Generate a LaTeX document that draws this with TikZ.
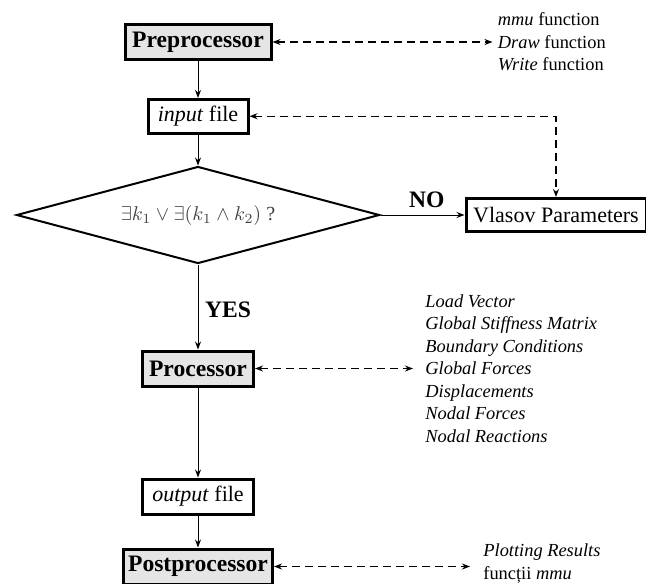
\documentclass[tikz,border=0pt]{standalone}
\usepackage{fontspec}
\setmainfont{Liberation Serif}
\usetikzlibrary{positioning, shapes.geometric, arrows.meta}
\definecolor{boxgray}{gray}{0.9}
\tikzset{
    mainbox/.style={draw, line width=1.5pt, fill=boxgray,
        font=\fontsize{11.8}{14}\selectfont\bfseries,
        minimum height=17.5pt, inner xsep=2pt},
    filebox/.style={draw, line width=1.5pt, fill=white,
        minimum height=15.5pt, inner xsep=3pt},
    decision/.style={diamond, draw, line width=1pt, aspect=3.74,
        minimum width=181.5pt, minimum height=48.5pt, inner sep=0pt,
        text=black!75, font=\fontsize{10}{12}\selectfont},
    sidelist/.style={align=left, inner sep=0pt,
        font=\fontsize{9.2}{11.25}\selectfont},
    tag/.style={font=\fontsize{11.8}{14}\selectfont\bfseries},
    link/.style={->, line width=0.5pt},
    dashlink/.style={<->, line width=0.7pt, dash pattern=on 4pt off 2.5pt},
    >={Stealth[length=4pt, width=3pt]}
}

\begin{document}
\begin{tikzpicture}[x=0.5pt, y=-0.5pt, font=\fontsize{11}{13}\selectfont]
\useasboundingbox (0,0) rectangle (646,583);

\node[mainbox, minimum width=73pt]                (pre)  at (198,42) {Preprocessor};
\node[filebox, minimum width=50pt, below=18.5pt of pre] (in)   {\textit{input} file};
\node[decision, below=15.5pt of in]               (dec)  {$\exists k_1 \vee \exists(k_1 \wedge k_2)$ ?};
\node[filebox, minimum width=90pt, minimum height=16.5pt, right=42pt of dec] (vla) {Vlasov Parameters};
\node[mainbox, minimum width=55.5pt, below=42.5pt of dec] (proc) {Processor};
\node[filebox, minimum width=55.5pt, minimum height=17.5pt, below=45pt of proc] (out) {\textit{output} file};
\node[mainbox, minimum width=74.5pt, below=16pt of out]  (post) {Postprocessor};

% side lists
\node[sidelist, right=112.5pt of pre]  (prelist)
    {\textit{mmu} function\\ \textit{Draw} function\\ \textit{Write} function};
\node[sidelist, right=85pt of proc]    (proclist)
    {\textit{Load Vector}\\ \textit{Global Stiffness Matrix}\\ \textit{Boundary Conditions}\\
     \textit{Global Forces}\\ \textit{Displacements}\\ \textit{Nodal Forces}\\ \textit{Nodal Reactions}};
\node[sidelist, right=104.5pt of post, yshift=1.5pt] (postlist)
    {\textit{Plotting Results}\\ funcții \textit{mmu}};

\draw[link] (pre) -- (in);
\draw[link] (in) -- (dec);
\draw[link] (dec) -- node[right, pos=0.53, tag] {YES} (proc);
\draw[link] (dec) -- node[above, pos=0.55, tag] {NO} (vla);
\draw[link] (proc) -- (out);
\draw[link] (out) -- (post);

\draw[dashlink, shorten >=2.5pt] (pre) -- (prelist);
\draw[dashlink] (in.east) -| (vla.north);
\draw[dashlink, shorten >=6pt] (proc) -- (proclist);
\draw[dashlink, shorten >=6.5pt] (post.east) -- (post.east -| postlist.west);
\end{tikzpicture}
\end{document}
